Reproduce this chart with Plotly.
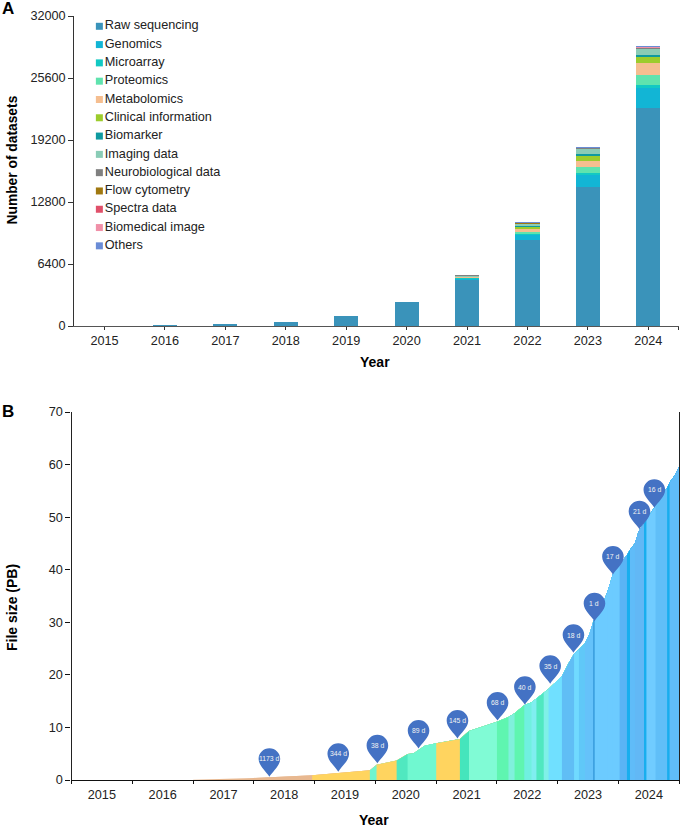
import datetime as dt
import plotly.graph_objects as go

W, H = 682, 827
FONT = "Liberation Sans"

# ---- Panel A data ----
years = [2015, 2016, 2017, 2018, 2019, 2020, 2021, 2022, 2023, 2024]
series_names = ["Raw sequencing", "Genomics", "Microarray", "Proteomics", "Metabolomics",
                "Clinical information", "Biomarker", "Imaging data", "Neurobiological data",
                "Flow cytometry", "Spectra data", "Biomedical image", "Others"]
series_colors = ["#3A93BA", "#12B5D5", "#12C9C3", "#5FE3AE", "#F5BE90", "#9CCC2C", "#0F9AA0",
                 "#8ACCB6", "#808080", "#A07810", "#E0506A", "#F090A8", "#6A8CD6"]
raw_sequencing = [0, 15, 190, 450, 1030, 2450, 4815, 8875, 14380, 22500]
genomics = [0, 0, 0, 0, 0, 0, 110, 590, 1275, 2065]
microarray = [0, 0, 0, 0, 0, 0, 30, 70, 140, 275]
proteomics = [0, 0, 0, 0, 0, 0, 80, 170, 620, 1100]
metabolomics = [0, 0, 0, 0, 0, 0, 30, 275, 620, 1240]
clinical = [0, 0, 0, 0, 0, 0, 70, 340, 550, 585]
biomarker = [0, 0, 0, 0, 0, 0, 15, 70, 170, 240]
imaging = [0, 0, 0, 0, 0, 0, 30, 170, 516, 620]
neuro = [0, 0, 0, 0, 0, 0, 15, 70, 120, 140]
flow = [0, 0, 0, 0, 0, 0, 0, 5, 10, 15]
spectra = [0, 0, 0, 0, 0, 0, 0, 5, 10, 15]
biomedical = [0, 0, 0, 0, 0, 0, 0, 5, 10, 10]
others = [0, 0, 0, 0, 0, 0, 0, 5, 10, 15]
series_values = [raw_sequencing, genomics, microarray, proteomics, metabolomics, clinical,
                 biomarker, imaging, neuro, flow, spectra, biomedical, others]
y_ticks_a = [0, 6400, 12800, 19200, 25600, 32000]

# ---- Panel B data ----
edge_years = [2017.00, 2018.00, 2018.96, 2019.91, 2020.02, 2020.35, 2020.53, 2020.63, 2020.81,
              2021.00, 2021.39, 2021.54, 2022.00, 2022.19, 2022.29, 2022.45, 2022.57, 2022.65,
              2022.77, 2022.85, 2023.07, 2023.17, 2023.27, 2023.35, 2023.45, 2023.53, 2023.59,
              2023.605, 2023.69, 2023.82, 2023.91, 2024.02, 2024.14, 2024.19, 2024.27, 2024.33,
              2024.42, 2024.46, 2024.61, 2024.80, 2024.84, 2024.93, 2025.00]
edge_pb = [0.05, 0.4, 0.9, 1.85, 2.9, 3.7, 4.95, 5.1, 6.5,
           7.0, 7.8, 9.3, 11.1, 12.0, 12.7, 14.2, 14.8, 15.5,
           16.6, 17.3, 19.8, 22.0, 24.0, 24.8, 26.0, 28.0, 30.3,
           30.6, 32.0, 35.8, 39.2, 41.0, 42.8, 43.8, 45.0, 47.2,
           48.8, 49.5, 52.2, 55.6, 56.6, 58.0, 59.7]
band_colors = ["#E8B890", "#E8B890", "#FFD45F", "#70F5CF", "#FFD45F", "#50E8C0", "#70F8D0", "#70F8D0",
               "#70F8D0", "#FFD45F", "#45E5BC", "#80FBD5", "#5FF5B0", "#80F0DC", "#5FF5B0", "#70F0E0",
               "#80EEF0", "#50E8C0", "#80F0E8", "#70E0FF", "#60BEF5", "#60BEF5", "#70DAFF", "#60C8F8",
               "#65C2FA", "#65C2FA", "#1A80C8", "#6CCBFF", "#6CCBFF", "#6CCBFF", "#6CCBFF", "#5AB4F5",
               "#18AEEE", "#60BCF8", "#62B8F5", "#62B8F5", "#18AEEE", "#70CCFF", "#60BFF8", "#18AEEE",
               "#60BCF8", "#60BCF8"]
pin_labels = ["1173 d", "344 d", "38 d", "89 d", "145 d", "68 d", "40 d", "35 d", "18 d",
              "1 d", "17 d", "21 d", "16 d"]
pin_years = [2018.256, 2019.39, 2020.034, 2020.71, 2021.35, 2022.01, 2022.46, 2022.877,
             2023.26, 2023.606, 2023.91, 2024.346, 2024.59]
pin_pb = [0.63, 1.58, 3.17, 6.0, 7.9, 11.3, 14.3, 18.3, 24.2, 30.2, 39.1, 47.7, 51.8]
y_ticks_b = [0, 10, 20, 30, 40, 50, 60, 70]


def to_date(dec):
    y = int(dec)
    start = dt.datetime(y, 1, 1)
    return (start + (dt.datetime(y + 1, 1, 1) - start) * (dec - y)).strftime("%Y-%m-%d %H:%M")


fig = go.Figure()

# Panel A bars
for name, color, vals in zip(series_names, series_colors, series_values):
    fig.add_bar(x=years, y=vals, name=name, marker_color=color, marker_line_width=0,
                width=0.4, xaxis="x", yaxis="y", showlegend=False)

# Panel A key, drawn in the axes so that swatch and text spacing match
rows = list(range(len(series_names)))
KEY_X = 2014.915
KEY_Y0 = 32000 - (26.3 - 16) * 103.2
KEY_STEP = 18.3 * 103.2
fig.add_scatter(x=[KEY_X] * len(rows), y=[KEY_Y0 - r * KEY_STEP for r in rows], mode="markers+text",
                marker=dict(symbol="square", size=7, color=series_colors),
                text=series_names, textposition="middle right",
                textfont=dict(family=FONT, size=12.7, color="#222222"),
                xaxis="x", yaxis="y", showlegend=False, cliponaxis=False)

# Panel B bands: each one runs on to the end of the curve and the next band paints over it,
# which leaves no pale seam between neighbouring colours
for i, color in enumerate(band_colors):
    fig.add_scatter(x=[to_date(v) for v in edge_years[i:]], y=edge_pb[i:], mode="none",
                    fill="tozeroy", fillcolor=color, xaxis="x2", yaxis="y2", showlegend=False)

PIN = ("M0,0 C-3,5 -10.8,11 -10.8,17.7 C-10.8,23.7 -6,28.5 0,28.5 "
       "C6,28.5 10.8,23.7 10.8,17.7 C10.8,11 3,5 0,0 Z")
shapes = [dict(type="path", xref="x2", yref="y2", xsizemode="pixel", ysizemode="pixel",
               xanchor=to_date(px), yanchor=py, path=PIN, fillcolor="#4472C4",
               line_width=0, layer="above") for px, py in zip(pin_years, pin_pb)]

annotations = [dict(xref="x2", yref="y2", x=to_date(px), y=py, yshift=17.7, text=t, showarrow=False,
                    font=dict(family=FONT, size=6.8, color="#F2F2F2"), xanchor="center", yanchor="middle")
               for t, px, py in zip(pin_labels, pin_years, pin_pb)]


def pix(x, y, text, size, angle=0):
    return dict(xref="paper", yref="paper", x=x / W, y=1 - y / H, text=f"<b>{text}</b>", showarrow=False,
                textangle=angle, xanchor="center", yanchor="middle",
                font=dict(family=FONT, size=size, color="#000000"))


annotations += [pix(8, 9, "A", 17), pix(8, 411, "B", 17),
                pix(11.5, 160, "Number of datasets", 13.8, -90),
                pix(12, 608, "File size (PB)", 14, -90),
                pix(375, 362, "Year", 14), pix(374, 820, "Year", 14)]

tick_font = dict(family=FONT, size=12.7, color="#222222")
fig.update_layout(
    width=W, height=H, margin=dict(l=0, r=0, t=0, b=0), autosize=False,
    paper_bgcolor="white", plot_bgcolor="white", barmode="stack",
    font=dict(family=FONT), hovermode=False,
    xaxis=dict(domain=[74.3 / W, 678.5 / W], anchor="y", range=[2014.5, 2024.5], automargin=False,
               tickvals=years + [2024.5], ticktext=[str(y) for y in years] + [""],
               ticks="outside", ticklen=3, tickcolor="#333333", linecolor="#555555", linewidth=1.3,
               tickfont=tick_font, showgrid=False, zeroline=False),
    yaxis=dict(domain=[1 - 326 / H, 1 - 16 / H], anchor="x", range=[0, 32000], tickvals=y_ticks_a,
               automargin=False,
               ticks="outside", ticklen=5, tickcolor="#333333", linecolor="#333333", linewidth=1.2,
               tickfont=tick_font, showgrid=False, zeroline=False, tickformat="d"),
    xaxis2=dict(domain=[71.5 / W, 679.3 / W], anchor="y2", type="date", automargin=False,
                range=["2015-01-01", "2025-01-01"],
                dtick="M12", tick0="2015-01-01", tickmode="linear", tickformat="%Y", ticklabelmode="period",
                ticks="outside", ticklen=3, tickcolor="#111111", linecolor="#111111", linewidth=1.3,
                tickfont=tick_font, showgrid=False, zeroline=False),
    yaxis2=dict(domain=[1 - 780 / H, 1 - 412 / H], anchor="x2", range=[0, 70], tickvals=y_ticks_b,
                automargin=False,
                ticks="outside", ticklen=5, tickcolor="#111111", linecolor="#222222", linewidth=1.2,
                mirror=True, tickfont=tick_font, showgrid=False, zeroline=False),
    shapes=shapes, annotations=annotations,
)
fig.write_html("out.html", config=dict(displayModeBar=False),
               post_script="document.body.style.margin='0';")
